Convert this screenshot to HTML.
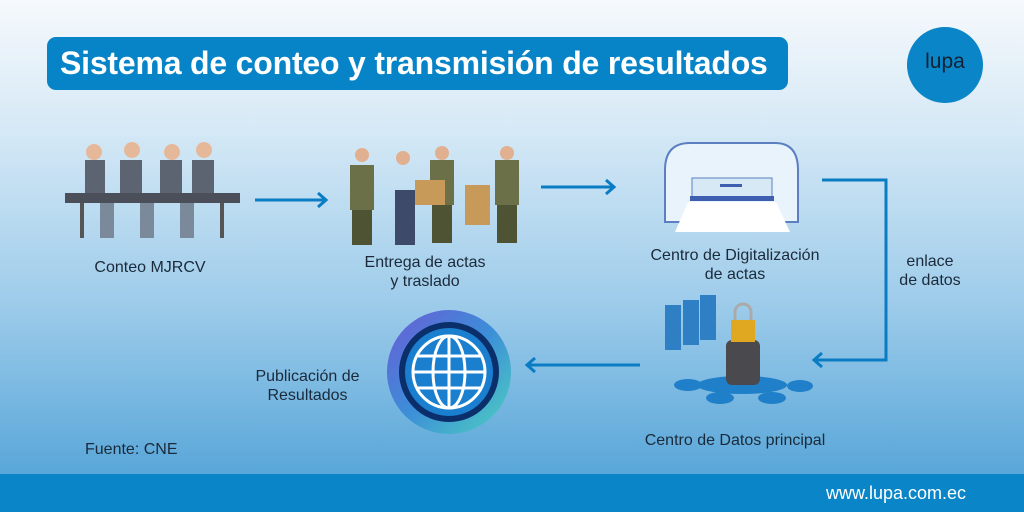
<!DOCTYPE html>
<html><head><meta charset="utf-8"><style>
body{margin:0}
#c{position:relative;width:1024px;height:512px;overflow:hidden;font-family:"Liberation Sans",sans-serif;background:linear-gradient(180deg,#f6f9fc 0%,#d6e9f6 25%,#9ccbea 60%,#5aa7d9 92%)}
.t{position:absolute;color:#1b2a3a;font-size:16px;text-align:center;line-height:19px}
#bar{position:absolute;left:0;top:474px;width:1024px;height:38px;background:#0a86c8}
</style></head><body><div id="c">
<div style="position:absolute;left:47px;top:37px;width:741px;height:53px;background:#0784c7;border-radius:9px"></div>
<div style="position:absolute;left:60px;top:43px;color:#fff;font-weight:bold;font-size:32px;line-height:40px;letter-spacing:-0.2px">Sistema de conteo y transmisión de resultados</div>
<div style="position:absolute;left:907px;top:27px;width:76px;height:76px;border-radius:50%;background:#0a86c8"></div>
<div style="position:absolute;left:907px;top:50px;width:76px;text-align:center;font-size:21px;color:#123">lupa</div>
<svg width="1024" height="512" style="position:absolute;left:0;top:0">
<defs><linearGradient id="g" x1="0" y1="0" x2="1" y2="1"><stop offset="0" stop-color="#6b5bd6"/><stop offset="0.5" stop-color="#3c8ed8"/><stop offset="1" stop-color="#4fd0c0"/></linearGradient></defs>
<g stroke="#0a7cc4" stroke-width="3" fill="none">
<path d="M255 200H326M318 193l8 7-8 7"/>
<path d="M541 187H614M606 180l8 7-8 7"/>
<path d="M822 180H886V360H814M822 353l-8 7 8 7"/>
<path d="M640 365H527M535 358l-8 7 8 7"/>
</g>
<rect x="65" y="193" width="175" height="10" fill="#4a4f5a"/>
<g fill="#5b6470"><rect x="85" y="160" width="20" height="33"/><rect x="120" y="160" width="22" height="33"/><rect x="160" y="160" width="22" height="33"/><rect x="192" y="160" width="22" height="33"/></g>
<g fill="#e6b89a"><circle cx="94" cy="152" r="8"/><circle cx="132" cy="150" r="8"/><circle cx="172" cy="152" r="8"/><circle cx="204" cy="150" r="8"/></g>
<g fill="#555"><rect x="80" y="203" width="4" height="35"/><rect x="220" y="203" width="4" height="35"/><rect x="100" y="203" width="14" height="35" fill="#7a8a9a"/><rect x="140" y="203" width="14" height="35" fill="#7a8a9a"/><rect x="180" y="203" width="14" height="35" fill="#7a8a9a"/></g>
<g fill="#6b7048"><rect x="350" y="165" width="24" height="45"/><rect x="430" y="160" width="24" height="45"/><rect x="495" y="160" width="24" height="45"/></g>
<g fill="#4e5334"><rect x="352" y="210" width="20" height="35"/><rect x="432" y="205" width="20" height="38"/><rect x="497" y="205" width="20" height="38"/><rect x="395" y="190" width="20" height="55" fill="#3d4a6a"/></g>
<rect x="415" y="180" width="30" height="25" fill="#c89a5a"/><rect x="465" y="185" width="25" height="40" fill="#c89a5a"/>
<g fill="#e0b090"><circle cx="362" cy="155" r="7"/><circle cx="442" cy="153" r="7"/><circle cx="507" cy="153" r="7"/><circle cx="403" cy="158" r="7"/></g>
<path d="M665 170Q665 143 690 143H775Q798 143 798 170V222H665Z" fill="#e8f3fb" stroke="#5b7fc0" stroke-width="2"/>
<rect x="692" y="178" width="80" height="22" fill="#d8e9f6" stroke="#5b7fc0"/>
<rect x="720" y="184" width="22" height="3" fill="#3e5fb0"/>
<rect x="690" y="196" width="84" height="5" fill="#3e5fb0"/>
<path d="M688 202H776L790 232H675Z" fill="#fff"/>
<g fill="#2e7fc4"><rect x="665" y="305" width="16" height="45"/><rect x="683" y="300" width="16" height="45"/><rect x="700" y="295" width="16" height="45"/></g>
<ellipse cx="742" cy="385" rx="45" ry="9" fill="#1f7fc8"/>
<rect x="726" y="340" width="34" height="45" rx="6" fill="#4a4a4e"/>
<rect x="731" y="320" width="24" height="22" fill="#e0a820"/>
<path d="M735 320v-8a8 8 0 0116 0v8" stroke="#aaa" stroke-width="3" fill="none"/>
<g fill="#1f7fc8"><ellipse cx="688" cy="385" rx="14" ry="6"/><ellipse cx="720" cy="398" rx="14" ry="6"/><ellipse cx="772" cy="398" rx="14" ry="6"/><ellipse cx="800" cy="386" rx="13" ry="6"/></g>
<circle cx="449" cy="372" r="62" fill="url(#g)"/>
<circle cx="449" cy="372" r="50" fill="#0b2f6a"/>
<circle cx="449" cy="372" r="44" fill="#1a7fcf"/>
<g stroke="#fff" stroke-width="3" fill="none"><circle cx="449" cy="372" r="36"/><ellipse cx="449" cy="372" rx="16" ry="36"/><path d="M413 372h72M418 356h62M418 388h62M449 336v72"/></g>
</svg>
<div class="t" style="left:80px;top:258px;width:140px">Conteo MJRCV</div>
<div class="t" style="left:340px;top:253px;width:170px">Entrega de actas<br>y traslado</div>
<div class="t" style="left:625px;top:246px;width:220px">Centro de Digitalización<br>de actas</div>
<div class="t" style="left:885px;top:252px;width:90px">enlace<br>de datos</div>
<div class="t" style="left:235px;top:367px;width:145px">Publicación de<br>Resultados</div>
<div class="t" style="left:615px;top:431px;width:240px">Centro de Datos principal</div>
<div class="t" style="left:85px;top:440px;text-align:left">Fuente: CNE</div>
<div id="bar"></div>
<div style="position:absolute;left:826px;top:483px;color:#fff;font-size:18px">www.lupa.com.ec</div>
</div></body></html>
